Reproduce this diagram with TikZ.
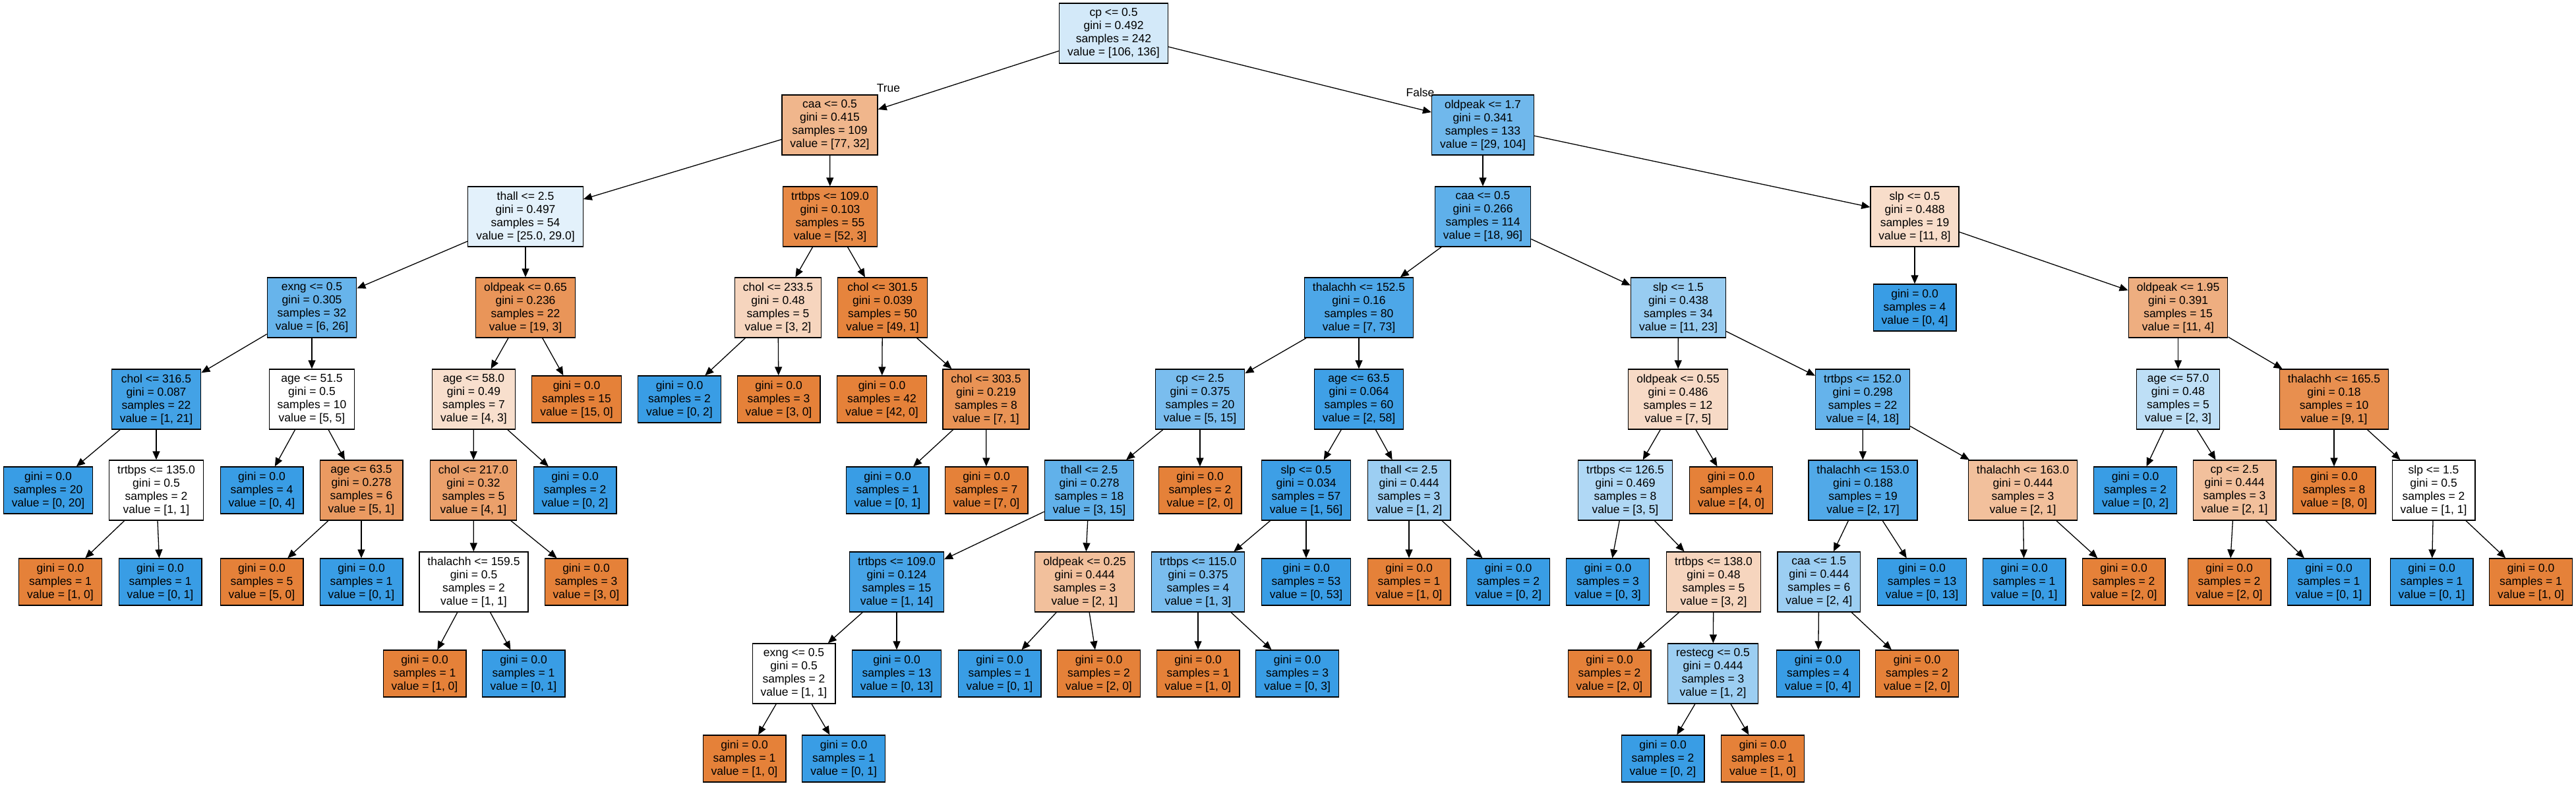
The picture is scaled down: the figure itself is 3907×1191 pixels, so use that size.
\documentclass[tikz,border=0pt]{standalone}
\usepackage{fontspec}
\setmainfont{Liberation Sans}
\usetikzlibrary{arrows.meta}
\definecolor{co}{RGB}{229,129,57}
\definecolor{cb}{RGB}{57,157,229}
\newcommand\sn[5]{#1 <= #2\\gini = #3\\samples = #4\\value = [#5]}
\newcommand\lfn[2]{gini = 0.0\\samples = #1\\value = [#2]}
\begin{document}
\begin{tikzpicture}[x=1pt,y=-1pt,
  base/.style={draw=black, line width=1.3pt, rectangle, align=center, inner xsep=12.5pt, inner ysep=0pt, font=\fontsize{17.5}{20}\selectfont},
  dn/.style={base, minimum height=91pt},
  lf/.style={base, minimum height=71pt},
  tedge/.style={-{Triangle[length=13pt,width=11pt]}, line width=1.3pt},
  lbl/.style={font=\fontsize{17.5}{20}\selectfont, inner sep=0pt}]
\fill[white] (0,0) rectangle (3907,1191);
\useasboundingbox (0,0) rectangle (3907,1191);
% L0
\node[dn, fill=cb!22!white] (n0) at (1689,50.5) {\sn{cp}{0.5}{0.492}{242}{106, 136}};
% L1
\node[dn, fill=co!58!white] (n1) at (1258.5,189.5) {\sn{caa}{0.5}{0.415}{109}{77, 32}};
\node[dn, fill=cb!72!white] (n32) at (2249,189.5) {\sn{oldpeak}{1.7}{0.341}{133}{29, 104}};
% L2
\node[dn, fill=cb!14!white] (n2) at (797,328.5) {\sn{thall}{2.5}{0.497}{54}{25.0, 29.0}};
\node[dn, fill=co!94!white] (n23) at (1259,328.5) {\sn{trtbps}{109.0}{0.103}{55}{52, 3}};
\node[dn, fill=cb!81!white] (n33) at (2249,328.5) {\sn{caa}{0.5}{0.266}{114}{18, 96}};
\node[dn, fill=co!27!white] (n74) at (2904,328.5) {\sn{slp}{0.5}{0.488}{19}{11, 8}};
% L3
\node[dn, fill=cb!77!white] (n3) at (473,466.5) {\sn{exng}{0.5}{0.305}{32}{6, 26}};
\node[dn, fill=co!84!white] (n14) at (797,466.5) {\sn{oldpeak}{0.65}{0.236}{22}{19, 3}};
\node[dn, fill=co!33!white] (n24) at (1180,466.5) {\sn{chol}{233.5}{0.48}{5}{3, 2}};
\node[dn, fill=co!98!white] (n27) at (1338.5,466.5) {\sn{chol}{301.5}{0.039}{50}{49, 1}};
\node[dn, fill=cb!90!white] (n34) at (2061,466.5) {\sn{thalachh}{152.5}{0.16}{80}{7, 73}};
\node[dn, fill=cb!52!white] (n55) at (2545.5,466.5) {\sn{slp}{1.5}{0.438}{34}{11, 23}};
\node[lf, fill=cb] (n75) at (2904,466.5) {\lfn{4}{0, 4}};
\node[dn, fill=co!64!white] (n76) at (3303.5,466.5) {\sn{oldpeak}{1.95}{0.391}{15}{11, 4}};
% L4
\node[dn, fill=cb!95!white] (n4) at (237,605.5) {\sn{chol}{316.5}{0.087}{22}{1, 21}};
\node[dn, fill=white] (n9) at (473,605.5) {\sn{age}{51.5}{0.5}{10}{5, 5}};
\node[dn, fill=co!25!white] (n15) at (718.5,605.5) {\sn{age}{58.0}{0.49}{7}{4, 3}};
\node[lf, fill=co] (n22) at (874.5,605.5) {\lfn{15}{15, 0}};
\node[lf, fill=cb] (n25) at (1030.5,605.5) {\lfn{2}{0, 2}};
\node[lf, fill=co] (n26) at (1181,605.5) {\lfn{3}{3, 0}};
\node[lf, fill=co] (n28) at (1337.5,605.5) {\lfn{42}{42, 0}};
\node[dn, fill=co!86!white] (n29) at (1495.5,605.5) {\sn{chol}{303.5}{0.219}{8}{7, 1}};
\node[dn, fill=cb!67!white] (n35) at (1820,605.5) {\sn{cp}{2.5}{0.375}{20}{5, 15}};
\node[dn, fill=cb!97!white] (n46) at (2061,605.5) {\sn{age}{63.5}{0.064}{60}{2, 58}};
\node[dn, fill=co!29!white] (n56) at (2545,605.5) {\sn{oldpeak}{0.55}{0.486}{12}{7, 5}};
\node[dn, fill=cb!78!white] (n65) at (2825,605.5) {\sn{trtbps}{152.0}{0.298}{22}{4, 18}};
\node[dn, fill=cb!33!white] (n77) at (3303.5,605.5) {\sn{age}{57.0}{0.48}{5}{2, 3}};
\node[dn, fill=co!89!white] (n82) at (3540,605.5) {\sn{thalachh}{165.5}{0.18}{10}{9, 1}};
% L5
\node[lf, fill=cb] (n5) at (73,743.5) {\lfn{20}{0, 20}};
\node[dn, fill=white] (n6) at (237,743.5) {\sn{trtbps}{135.0}{0.5}{2}{1, 1}};
\node[lf, fill=cb] (n10) at (397,743.5) {\lfn{4}{0, 4}};
\node[dn, fill=co!80!white] (n11) at (548,743.5) {\sn{age}{63.5}{0.278}{6}{5, 1}};
\node[dn, fill=co!75!white] (n16) at (718,743.5) {\sn{chol}{217.0}{0.32}{5}{4, 1}};
\node[lf, fill=cb] (n21) at (872,743.5) {\lfn{2}{0, 2}};
\node[lf, fill=cb] (n30) at (1346,743.5) {\lfn{1}{0, 1}};
\node[lf, fill=co] (n31) at (1496,743.5) {\lfn{7}{7, 0}};
\node[dn, fill=cb!80!white] (n36) at (1652,743.5) {\sn{thall}{2.5}{0.278}{18}{3, 15}};
\node[lf, fill=co] (n45) at (1820,743.5) {\lfn{2}{2, 0}};
\node[dn, fill=cb!98!white] (n47) at (1981,743.5) {\sn{slp}{0.5}{0.034}{57}{1, 56}};
\node[dn, fill=cb!50!white] (n52) at (2137,743.5) {\sn{thall}{2.5}{0.444}{3}{1, 2}};
\node[dn, fill=cb!40!white] (n57) at (2465,743.5) {\sn{trtbps}{126.5}{0.469}{8}{3, 5}};
\node[lf, fill=co] (n64) at (2625.5,743.5) {\lfn{4}{4, 0}};
\node[dn, fill=cb!88!white] (n66) at (2825.5,743.5) {\sn{thalachh}{153.0}{0.188}{19}{2, 17}};
\node[dn, fill=co!50!white] (n71) at (3068,743.5) {\sn{thalachh}{163.0}{0.444}{3}{2, 1}};
\node[lf, fill=cb] (n78) at (3238.5,743.5) {\lfn{2}{0, 2}};
\node[dn, fill=co!50!white] (n79) at (3389,743.5) {\sn{cp}{2.5}{0.444}{3}{2, 1}};
\node[lf, fill=co] (n83) at (3540,743.5) {\lfn{8}{8, 0}};
\node[dn, fill=white] (n84) at (3691,743.5) {\sn{slp}{1.5}{0.5}{2}{1, 1}};
% L6
\node[lf, fill=co] (n7) at (91.5,882.5) {\lfn{1}{1, 0}};
\node[lf, fill=cb] (n8) at (243,882.5) {\lfn{1}{0, 1}};
\node[lf, fill=co] (n12) at (397,882.5) {\lfn{5}{5, 0}};
\node[lf, fill=cb] (n13) at (548,882.5) {\lfn{1}{0, 1}};
\node[dn, fill=white] (n17) at (718.5,882.5) {\sn{thalachh}{159.5}{0.5}{2}{1, 1}};
\node[lf, fill=co] (n20) at (889,882.5) {\lfn{3}{3, 0}};
\node[dn, fill=cb!93!white] (n37) at (1360,882.5) {\sn{trtbps}{109.0}{0.124}{15}{1, 14}};
\node[dn, fill=co!50!white] (n42) at (1645,882.5) {\sn{oldpeak}{0.25}{0.444}{3}{2, 1}};
\node[dn, fill=cb!67!white] (n48) at (1817,882.5) {\sn{trtbps}{115.0}{0.375}{4}{1, 3}};
\node[lf, fill=cb] (n51) at (1981,882.5) {\lfn{53}{0, 53}};
\node[lf, fill=co] (n53) at (2137,882.5) {\lfn{1}{1, 0}};
\node[lf, fill=cb] (n54) at (2287.6,882.5) {\lfn{2}{0, 2}};
\node[lf, fill=cb] (n58) at (2438.5,882.5) {\lfn{3}{0, 3}};
\node[dn, fill=co!33!white] (n59) at (2599,882.5) {\sn{trtbps}{138.0}{0.48}{5}{3, 2}};
\node[dn, fill=cb!50!white] (n67) at (2758.8,882.5) {\sn{caa}{1.5}{0.444}{6}{2, 4}};
\node[lf, fill=cb] (n70) at (2915,882.5) {\lfn{13}{0, 13}};
\node[lf, fill=cb] (n72) at (3070,882.5) {\lfn{1}{0, 1}};
\node[lf, fill=co] (n73) at (3221,882.5) {\lfn{2}{2, 0}};
\node[lf, fill=co] (n80) at (3381,882.5) {\lfn{2}{2, 0}};
\node[lf, fill=cb] (n81) at (3532,882.5) {\lfn{1}{0, 1}};
\node[lf, fill=cb] (n85) at (3688,882.5) {\lfn{1}{0, 1}};
\node[lf, fill=co] (n86) at (3838.5,882.5) {\lfn{1}{1, 0}};
% L7
\node[lf, fill=co] (n18) at (644,1021.5) {\lfn{1}{1, 0}};
\node[lf, fill=cb] (n19) at (794,1021.5) {\lfn{1}{0, 1}};
\node[dn, fill=white] (n38) at (1204,1021.5) {\sn{exng}{0.5}{0.5}{2}{1, 1}};
\node[lf, fill=cb] (n41) at (1360,1021.5) {\lfn{13}{0, 13}};
\node[lf, fill=cb] (n43) at (1516,1021.5) {\lfn{1}{0, 1}};
\node[lf, fill=co] (n44) at (1666.5,1021.5) {\lfn{2}{2, 0}};
\node[lf, fill=co] (n49) at (1817,1021.5) {\lfn{1}{1, 0}};
\node[lf, fill=cb] (n50) at (1967.6,1021.5) {\lfn{3}{0, 3}};
\node[lf, fill=co] (n60) at (2441,1021.5) {\lfn{2}{2, 0}};
\node[dn, fill=cb!50!white] (n61) at (2598,1021.5) {\sn{restecg}{0.5}{0.444}{3}{1, 2}};
\node[lf, fill=cb] (n68) at (2757.5,1021.5) {\lfn{4}{0, 4}};
\node[lf, fill=co] (n69) at (2907.5,1021.5) {\lfn{2}{2, 0}};
% L8
\node[lf, fill=co] (n39) at (1129,1150.5) {\lfn{1}{1, 0}};
\node[lf, fill=cb] (n40) at (1279.6,1150.5) {\lfn{1}{0, 1}};
\node[lf, fill=cb] (n62) at (2522,1150.5) {\lfn{2}{0, 2}};
\node[lf, fill=co] (n63) at (2673.5,1150.5) {\lfn{1}{1, 0}};
% labels
\node[lbl] (tl) at (1347.5,134) {True};
\node[lbl] (fl) at (2154,140) {False};
% edges
\foreach \p/\c in {n0/n1,n0/n32,n1/n2,n1/n23,n2/n3,n2/n14,n3/n4,n3/n9,n4/n5,n4/n6,n6/n7,n6/n8,
  n9/n10,n9/n11,n11/n12,n11/n13,n14/n15,n14/n22,n15/n16,n15/n21,n16/n17,n16/n20,n17/n18,n17/n19,
  n23/n24,n23/n27,n24/n25,n24/n26,n27/n28,n27/n29,n29/n30,n29/n31,
  n32/n33,n32/n74,n33/n34,n33/n55,n34/n35,n34/n46,n35/n36,n35/n45,n36/n37,n36/n42,
  n37/n38,n37/n41,n38/n39,n38/n40,n42/n43,n42/n44,n46/n47,n46/n52,n47/n48,n47/n51,
  n48/n49,n48/n50,n52/n53,n52/n54,n55/n56,n55/n65,n56/n57,n56/n64,n57/n58,n57/n59,
  n59/n60,n59/n61,n61/n62,n61/n63,n65/n66,n65/n71,n66/n67,n66/n70,n67/n68,n67/n69,
  n71/n72,n71/n73,n74/n75,n74/n76,n76/n77,n76/n82,n77/n78,n77/n79,n79/n80,n79/n81,
  n82/n83,n82/n84,n84/n85,n84/n86}
  \draw[tedge] (\p) -- (\c);
\end{tikzpicture}
\end{document}
